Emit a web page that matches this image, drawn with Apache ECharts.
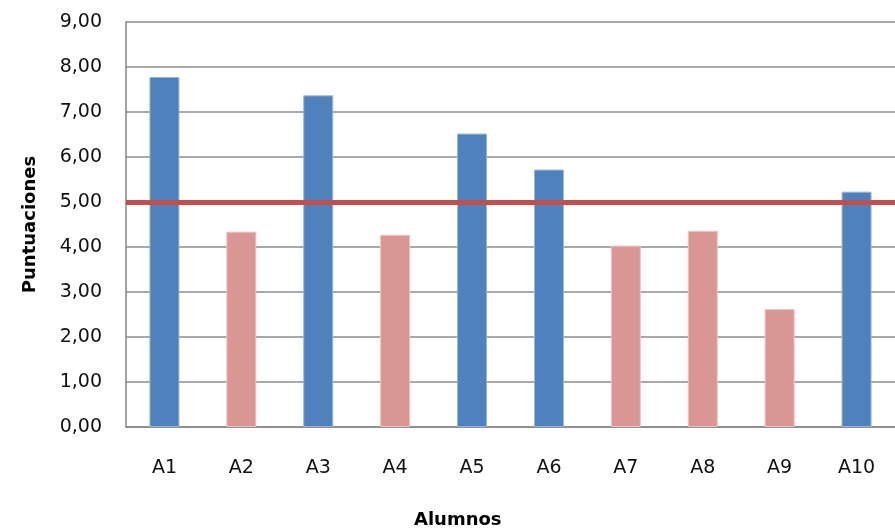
<!DOCTYPE html>
<html>
<head>
<meta charset="utf-8">
<script src="https://cdn.jsdelivr.net/npm/echarts@6/dist/echarts.min.js"></script>
<style>
  html, body { margin: 0; padding: 0; background: #fff; }
  #chart { width: 895px; height: 532px; }
</style>
</head>
<body>
<div id="chart"></div>
<script>
// Alumnos y sus puntuaciones
const alumnos = ['A1', 'A2', 'A3', 'A4', 'A5', 'A6', 'A7', 'A8', 'A9', 'A10'];
const puntuaciones = [7.78, 4.34, 7.37, 4.27, 6.52, 5.72, 4.03, 4.36, 2.62, 5.23];
const notaAprobado = 5;
const ticksY = { min: 0, max: 9, interval: 1 };

const colorAprobado = '#4F81BD';
const colorSuspenso = '#D99694';

const fontFamily = '"DejaVu Sans", Verdana, sans-serif';

const chart = echarts.init(document.getElementById('chart'), null, { renderer: 'canvas' });

chart.setOption({
  backgroundColor: '#ffffff',
  animation: false,
  grid: { left: 126, right: -5, top: 22, bottom: 105, containLabel: false },
  xAxis: {
    type: 'category',
    data: alumnos,
    axisLine: { lineStyle: { color: '#868686', width: 1.5 } },
    axisTick: { show: false },
    axisLabel: { color: '#111', fontFamily, fontSize: 19, margin: 32 }
  },
  yAxis: {
    type: 'value',
    min: ticksY.min,
    max: ticksY.max,
    interval: ticksY.interval,
    name: 'Puntuaciones',
    nameLocation: 'middle',
    nameGap: 87,
    nameRotate: 90,
    nameTextStyle: { color: '#000', fontFamily, fontWeight: 'bold', fontSize: 18 },
    axisLine: { show: true, lineStyle: { color: '#868686', width: 1.5 } },
    axisTick: { show: false },
    splitLine: { lineStyle: { color: '#8c8c8c', width: 1.5 } },
    axisLabel: {
      color: '#111', fontFamily, fontSize: 19, margin: 24,
      formatter: v => v.toFixed(2).replace('.', ',')
    }
  },
  series: [{
    type: 'bar',
    barWidth: 30,
    data: puntuaciones.map(v => ({
      value: v,
      itemStyle: {
        color: v >= notaAprobado ? colorAprobado : colorSuspenso,
        borderColor: v >= notaAprobado ? '#9ab6da' : '#eec3c2',
        borderWidth: 1
      }
    })),
    markLine: {
      silent: true,
      symbol: 'none',
      label: { show: false },
      lineStyle: { color: '#C0504D', width: 5, type: 'solid' },
      data: [{ yAxis: notaAprobado }]
    }
  }],
  graphic: [{
    type: 'text',
    left: 414,
    top: 511,
    style: { text: 'Alumnos', font: 'bold 18px ' + fontFamily, fill: '#000' }
  }]
});
</script>
</body>
</html>
